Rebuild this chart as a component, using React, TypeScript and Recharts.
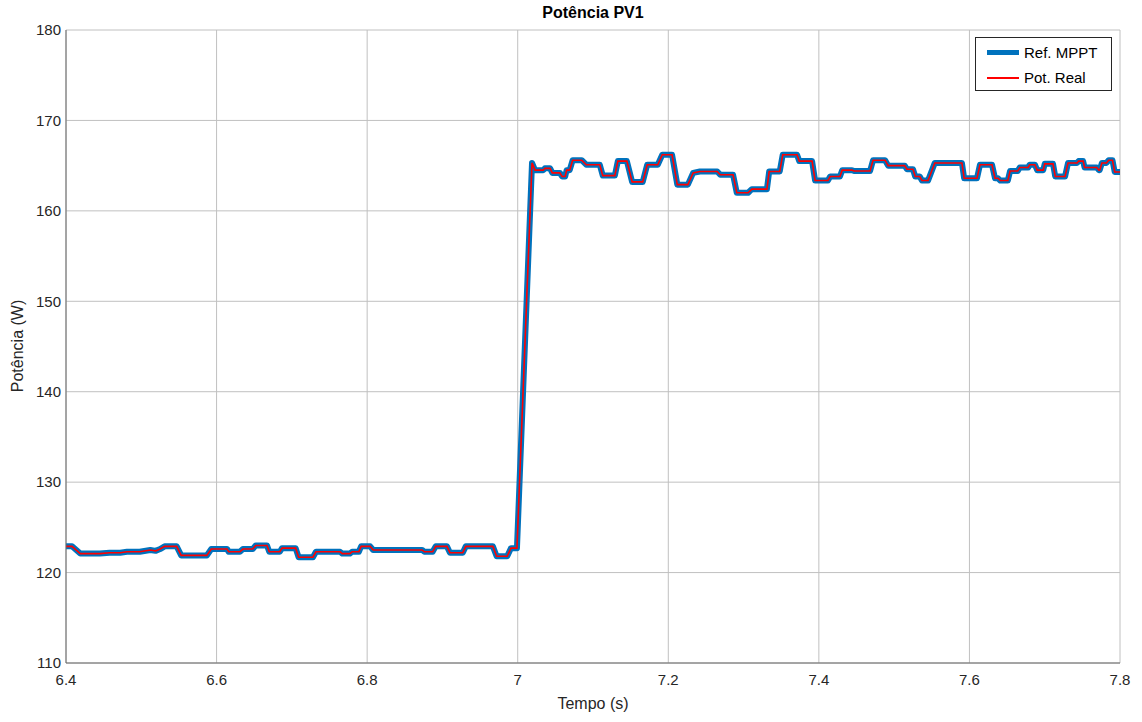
import { LineChart, Line, XAxis, YAxis, CartesianGrid } from "recharts";

// Tempo (s) dos pontos de quebra e potência (W)
const tempo = [
  6.4, 6.408, 6.419, 6.445, 6.458, 6.472, 6.481, 6.498, 6.512, 6.519,
  6.525, 6.531, 6.547, 6.553, 6.587,
  6.593, 6.614, 6.616, 6.631, 6.635, 6.648, 6.652, 6.667, 6.67, 6.684,
  6.687, 6.705, 6.709, 6.728, 6.732, 6.764, 6.767, 6.777, 6.78, 6.789,
  6.792, 6.804, 6.808, 6.873, 6.876, 6.887, 6.891, 6.906, 6.91, 6.927,
  6.931, 6.967, 6.972, 6.986, 6.991, 6.999, 7.019, 7.023, 7.034, 7.036,
  7.043, 7.046, 7.056, 7.059, 7.063, 7.065, 7.069, 7.073, 7.085, 7.091,
  7.109, 7.113, 7.129, 7.133, 7.145, 7.152, 7.166, 7.172, 7.186, 7.192,
  7.205, 7.212, 7.226, 7.233, 7.242, 7.265, 7.269, 7.286, 7.291, 7.306,
  7.311, 7.331, 7.334, 7.348, 7.352, 7.371, 7.374, 7.391, 7.395, 7.412,
  7.415, 7.428, 7.431, 7.444, 7.447, 7.468, 7.472, 7.488, 7.492, 7.514,
  7.517, 7.525, 7.528, 7.534, 7.537, 7.545, 7.554, 7.59, 7.593, 7.61,
  7.614, 7.63, 7.634, 7.638, 7.641, 7.651, 7.654, 7.664, 7.667, 7.678,
  7.68, 7.687, 7.69, 7.698, 7.7, 7.711, 7.714, 7.727, 7.731, 7.743,
  7.745, 7.751, 7.753, 7.769, 7.772, 7.773, 7.776, 7.782, 7.785, 7.79,
  7.793, 7.8,
];

const refMppt = [
  122.9, 122.9, 122.1, 122.1, 122.2, 122.2, 122.3, 122.3, 122.5, 122.4,
  122.6, 122.9, 122.9, 121.9, 121.9,
  122.6, 122.6, 122.3, 122.3, 122.6, 122.6, 123.0, 123.0, 122.3, 122.3,
  122.7, 122.7, 121.7, 121.7, 122.3, 122.3, 122.1, 122.1, 122.3, 122.3,
  122.9, 122.9, 122.5, 122.5, 122.3, 122.3, 122.9, 122.9, 122.2, 122.2,
  122.9, 122.9, 121.8, 121.8, 122.7, 122.7, 165.3, 164.5, 164.5, 164.7,
  164.7, 164.2, 164.2, 163.8, 163.8, 164.5, 164.5, 165.6, 165.6, 165.1,
  165.1, 163.9, 163.9, 165.5, 165.5, 163.2, 163.2, 165.1, 165.1, 166.2,
  166.2, 162.9, 162.9, 164.2, 164.35, 164.35, 164.0, 164.0, 162.0, 162.0,
  162.4, 162.4, 164.35, 164.35, 166.2, 166.2, 165.5, 165.5, 163.35, 163.35,
  163.8, 163.8, 164.5, 164.5, 164.4, 164.4, 165.6, 165.6, 165.0, 165.0,
  164.6, 164.6, 163.8, 163.8, 163.35, 163.35, 165.3, 165.3, 163.6, 163.6,
  165.1, 165.1, 163.6, 163.6, 163.35, 163.35, 164.4, 164.4, 164.8, 164.8,
  165.1, 165.1, 164.5, 164.5, 165.2, 165.2, 163.8, 163.8, 165.3, 165.3,
  165.5, 165.5, 164.8, 164.8, 164.5, 164.5, 165.3, 165.3, 165.6, 165.6,
  164.3, 164.3,
];

// a potência real segue a referência praticamente sem erro
const potReal = refMppt;

const xTicks = [6.4, 6.6, 6.8, 7, 7.2, 7.4, 7.6, 7.8];
const yTicks = [110, 120, 130, 140, 150, 160, 170, 180];

const FONT = "'Liberation Sans', Arial, Helvetica, sans-serif";
const INK = "#262626";
const AXIS = "#6b6b6b";

export default function App() {
  const data = tempo.map((t, i) => ({ t, ref: refMppt[i], real: potReal[i] }));

  return (
    <div style={{ position: "fixed", top: 0, left: 0, width: 1142, height: 722, background: "#fff", fontFamily: FONT }}>
      {/* Título */}
      <div style={{ position: "absolute", left: 66, width: 1054, top: 4, textAlign: "center", fontSize: 16, fontWeight: 700, color: "#000" }}>
        Potência PV1
      </div>

      <LineChart width={1142} height={722} data={data} margin={{ top: 30, right: 22, left: 0, bottom: 0 }}>
        <CartesianGrid stroke="#c0c0c0" strokeWidth={1} />
        <XAxis
          dataKey="t"
          type="number"
          domain={[6.4, 7.8]}
          ticks={xTicks}
          tickFormatter={(v) => String(v)}
          height={59}
          tick={{ fontSize: 15, fill: INK, fontFamily: FONT }}
          tickLine={false}
          tickSize={0}
          tickMargin={11}
          axisLine={{ stroke: AXIS }}
          allowDataOverflow
        />
        <XAxis xAxisId="top" orientation="top" dataKey="t" type="number" domain={[6.4, 7.8]} height={0} tick={false} tickLine={false} axisLine={{ stroke: AXIS }} />
        <YAxis
          type="number"
          domain={[110, 180]}
          ticks={yTicks}
          width={66}
          tick={{ fontSize: 15, fill: INK, fontFamily: FONT }}
          tickLine={false}
          tickSize={0}
          tickMargin={5}
          axisLine={{ stroke: AXIS }}
          allowDataOverflow
        />
        <YAxis yAxisId="right" orientation="right" domain={[110, 180]} width={0} tick={false} tickLine={false} axisLine={{ stroke: AXIS }} />
        <Line type="linear" dataKey="ref" stroke="#0072BD" strokeWidth={6} dot={false} activeDot={false} isAnimationActive={false} strokeLinejoin="round" />
        <Line type="linear" dataKey="real" stroke="#ff0000" strokeWidth={1.6} dot={false} activeDot={false} isAnimationActive={false} />
      </LineChart>

      {/* Rótulos dos eixos */}
      <div style={{ position: "absolute", left: 66, width: 1054, top: 695, textAlign: "center", fontSize: 16, color: INK }}>
        Tempo (s)
      </div>
      <div style={{ position: "absolute", left: 18, top: 346, transform: "translate(-50%, -50%) rotate(-90deg)", whiteSpace: "nowrap", fontSize: 16, color: INK }}>
        Potência (W)
      </div>

      {/* Legenda */}
      <div style={{ position: "absolute", left: 975, top: 37, width: 137, height: 54, border: "1px solid #262626", background: "#fff", boxSizing: "border-box", fontSize: 15, color: "#000" }}>
        <div style={{ display: "flex", alignItems: "center", height: 17, marginTop: 6 }}>
          <div style={{ width: 32, height: 5, background: "#0072BD", marginLeft: 11, marginRight: 5 }} />
          <span>Ref. MPPT</span>
        </div>
        <div style={{ display: "flex", alignItems: "center", height: 17, marginTop: 8 }}>
          <div style={{ width: 32, height: 2, background: "#ff0000", marginLeft: 11, marginRight: 5 }} />
          <span>Pot. Real</span>
        </div>
      </div>
    </div>
  );
}
